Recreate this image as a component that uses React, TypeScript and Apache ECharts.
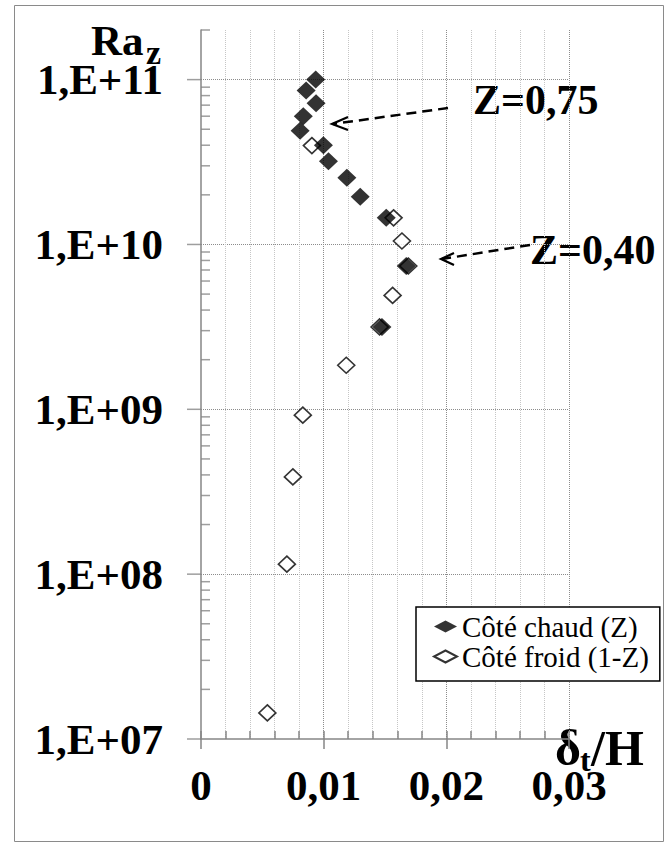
import React, { useEffect, useRef } from "react";
import * as echarts from "echarts";

// Côté chaud (Z) — filled diamonds
const hotDelta = [0.00935, 0.00857, 0.00938, 0.00834, 0.00808, 0.00998, 0.01039, 0.01189, 0.01298, 0.0151, 0.01673, 0.01475];
const hotRa = [1.0e11, 8.6e10, 7.2e10, 6.0e10, 4.9e10, 4.0e10, 3.2e10, 2.54e10, 1.95e10, 1.45e10, 7.4e9, 3.16e9];

// Côté froid (1-Z) — hollow diamonds
const coldDelta = [0.00904, 0.0157, 0.01638, 0.0169, 0.01562, 0.01456, 0.01184, 0.0083, 0.00749, 0.007, 0.00541];
const coldRa = [3.98e10, 1.45e10, 1.05e10, 7.4e9, 4.91e9, 3.16e9, 1.85e9, 9.22e8, 3.89e8, 1.15e8, 1.44e7];

const seriesNames = ["Côté chaud (Z)", "Côté froid (1-Z)"];
const yDecades = [1e7, 1e8, 1e9, 1e10, 1e11];
const yMinorMultipliers = [2, 3, 4, 5, 6, 7, 8, 9];
const yMax = 2e11;

const FONT = "'Liberation Serif', 'Times New Roman', serif";
const AXIS_GRAY = "#868686";

export default function App() {
  const ref = useRef<HTMLDivElement>(null);

  useEffect(() => {
    if (!ref.current) return;
    const chart = echarts.init(ref.current, undefined, { renderer: "svg" });

    const minorTicks: number[][] = [];
    yDecades.forEach((d) => {
      yMinorMultipliers.forEach((m) => {
        const v = m * d;
        if (v <= yMax) minorTicks.push([0, v]);
      });
    });
    const majorTicks = yDecades.map((v) => [0, v]);

    const bigText = { fontFamily: FONT, fontWeight: "bold" as const, fontSize: 43, color: "#000" };

    const option: any = {
      animation: false,
      backgroundColor: "#fff",
      grid: { left: 201, top: 30, right: 95, bottom: 108, containLabel: false },
      legend: {
        data: seriesNames,
        orient: "vertical",
        left: 416,
        top: 607,
        padding: [5, 11, 10, 17],
        itemGap: 1,
        itemWidth: 23,
        itemHeight: 12,
        backgroundColor: "#fff",
        borderColor: "#000",
        borderWidth: 1.5,
        borderRadius: 0,
        textStyle: { fontFamily: FONT, fontSize: 29, color: "#000" },
      },
      xAxis: [
        {
          type: "value",
          min: 0,
          max: 0.03,
          interval: 0.01,
          position: "bottom",
          axisLine: { show: true, onZero: false, lineStyle: { color: AXIS_GRAY, width: 1.5 } },
          axisTick: { show: true, inside: false, length: 10, lineStyle: { color: AXIS_GRAY, width: 1.5 } },
          axisLabel: {
            ...bigText,
            margin: 25,
            formatter: (v: number) => (v === 0 ? "0" : v.toFixed(2).replace(".", ",")),
          },
          splitLine: { show: true, showMinLine: false, lineStyle: { color: "#8c8c8c", type: "dotted", width: 1 } },
          minorTick: { show: false, splitNumber: 5 },
          minorSplitLine: { show: true, lineStyle: { color: "#c6c6c6", type: "dotted", width: 1 } },
        },
        {
          type: "value",
          min: 0,
          max: 0.03,
          interval: 0.002,
          position: "bottom",
          axisLine: { show: false, onZero: false },
          axisTick: { show: true, inside: true, length: 8, lineStyle: { color: AXIS_GRAY, width: 1.5 } },
          axisLabel: { show: false },
          splitLine: { show: false },
        },
      ],
      yAxis: {
        type: "log",
        logBase: 10,
        min: 1e7,
        max: yMax,
        axisLine: { show: true, onZero: false, lineStyle: { color: AXIS_GRAY, width: 1.5 } },
        axisTick: { show: false },
        axisLabel: {
          ...bigText,
          margin: 38,
          padding: [8, 0, 0, 0],
          showMaxLabel: false,
          formatter: (v: number) => "1,E+" + String(Math.round(Math.log10(v))).padStart(2, "0"),
        },
        splitLine: { show: true, showMinLine: false, showMaxLine: false, lineStyle: { color: "#8c8c8c", type: "dotted", width: 1 } },
        minorSplitLine: { show: false },
      },
      series: [
        {
          name: "__minorTicks",
          type: "scatter",
          data: minorTicks,
          symbol: "rect",
          symbolSize: [9, 1.5],
          symbolOffset: [4.5, 0],
          itemStyle: { color: AXIS_GRAY },
          silent: true,
          clip: false,
          z: 1,
        },
        {
          name: "__majorTicks",
          type: "scatter",
          data: majorTicks,
          symbol: "rect",
          symbolSize: [14, 1.5],
          symbolOffset: [-7, 0],
          itemStyle: { color: AXIS_GRAY },
          silent: true,
          clip: false,
          z: 1,
        },
        {
          name: seriesNames[1],
          type: "scatter",
          data: coldDelta.map((x, i) => [x, coldRa[i]]),
          symbol: "diamond",
          symbolSize: [17, 16],
          itemStyle: { color: "#fff", borderColor: "#000", borderWidth: 1.6 },
          z: 3,
        },
        {
          name: seriesNames[0],
          type: "scatter",
          data: hotDelta.map((x, i) => [x, hotRa[i]]),
          symbol: "diamond",
          symbolSize: [19, 18],
          itemStyle: { color: "#000" },
          z: 4,
        },
      ],
      graphic: [
        {
          type: "rect",
          shape: { x: 14.5, y: 5.5, width: 649, height: 836 },
          style: { fill: "none", stroke: "#8a8a8a", lineWidth: 1 },
          silent: true,
          z: 0,
        },
        // Y axis title Ra_z
        { type: "text", x: 91, y: 40, style: { text: "Ra", font: `bold 43px ${FONT}`, fill: "#000", verticalAlign: "middle" } },
        { type: "text", x: 146, y: 52, style: { text: "z", font: `bold 34px ${FONT}`, fill: "#000", verticalAlign: "middle" } },
        // X axis title δt/H
        { type: "text", x: 555, y: 748, style: { text: "δ", font: `bold 50px ${FONT}`, fill: "#000", verticalAlign: "middle" } },
        { type: "text", x: 580, y: 760, style: { text: "t", font: `bold 32px ${FONT}`, fill: "#000", verticalAlign: "middle" } },
        { type: "text", x: 591, y: 748, style: { text: "/H", font: `bold 50px ${FONT}`, fill: "#000", verticalAlign: "middle" } },
        // Annotations
        { type: "text", x: 473, y: 100, style: { text: "Z=0,75", font: `bold 42px ${FONT}`, fill: "#000", verticalAlign: "middle" } },
        { type: "text", x: 530, y: 250, style: { text: "Z=0,40", font: `bold 42px ${FONT}`, fill: "#000", verticalAlign: "middle" } },
        {
          type: "polyline",
          shape: { points: [[448, 108], [333, 124]] },
          style: { stroke: "#000", lineWidth: 2.5, lineDash: [10, 6], fill: "none" },
          z: 10,
        },
        {
          type: "polyline",
          shape: { points: [[348, 117], [332, 124], [348, 130]] },
          style: { stroke: "#000", lineWidth: 2.2, fill: "none" },
          z: 10,
        },
        {
          type: "polyline",
          shape: { points: [[530, 245], [442, 259]] },
          style: { stroke: "#000", lineWidth: 2.5, lineDash: [10, 6], fill: "none" },
          z: 10,
        },
        {
          type: "polyline",
          shape: { points: [[454, 253], [441, 259], [454, 265]] },
          style: { stroke: "#000", lineWidth: 2.2, fill: "none" },
          z: 10,
        },
      ],
    };

    chart.setOption(option);
    return () => chart.dispose();
  }, []);

  return (
    <div
      ref={ref}
      style={{ position: "fixed", left: 0, top: 0, width: 664, height: 847, background: "#fff" }}
    />
  );
}
